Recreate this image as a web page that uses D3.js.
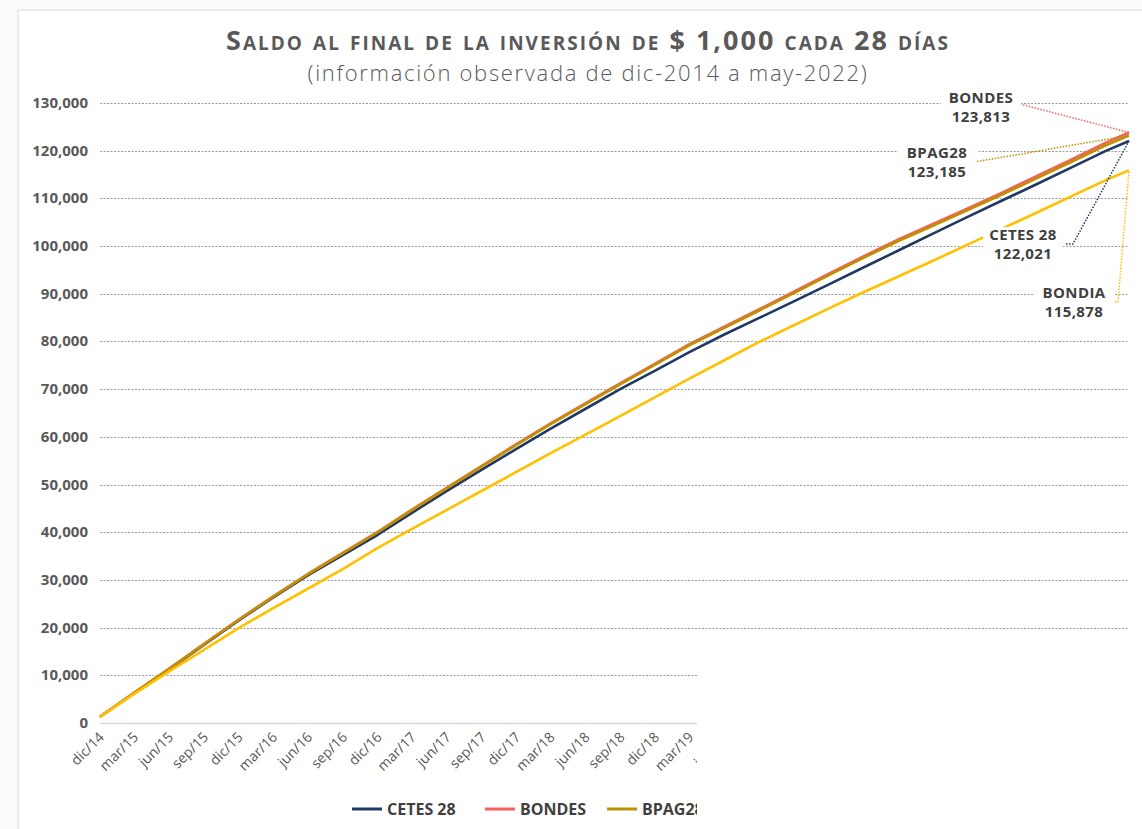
<!DOCTYPE html>
<html>
<head>
<meta charset="utf-8">
<script src="https://cdn.jsdelivr.net/npm/d3@7"></script>
<style>
  body { margin: 0; background: #fbfbfb; }
  svg { display: block; }
</style>
</head>
<body>
<svg id="chart" width="1142" height="829"></svg>
<script>
// fechas de corte (trimestral) y saldo de cada instrumento
var fechas = ["2014-12","2015-03","2015-06","2015-09","2015-12","2016-03","2016-06","2016-09","2016-12",
  "2017-03","2017-06","2017-09","2017-12","2018-03","2018-06","2018-09","2018-12","2019-03","2019-06",
  "2019-09","2019-12","2020-03","2020-06","2020-09","2020-12","2021-03","2021-06","2021-09","2021-12",
  "2022-03","2022-05"];

var etiquetas = ["dic/14","mar/15","jun/15","sep/15","dic/15","mar/16","jun/16","sep/16","dic/16",
  "mar/17","jun/17","sep/17","dic/17","mar/18","jun/18","sep/18","dic/18","mar/19","jun/19",
  "sep/19","dic/19","mar/20","jun/20","sep/20","dic/20","mar/21","jun/21","sep/21","dic/21","mar/22"];

var cetes28 = [1300,6260,11250,16420,21500,26320,31000,35230,39470,44070,48690,53125,57460,61730,65890,
  70060,73900,77760,81460,84930,88400,91930,95500,99070,102610,106080,109550,113020,116490,119960,122021];

var bondes = [1300,6330,11410,16600,21700,26550,31300,35700,40100,44750,49350,53930,58480,62820,67050,
  71240,75330,79430,83100,86750,90430,94140,97850,101400,104630,107860,111220,114690,118160,121680,123813];

var bpag28 = [1300,6310,11380,16560,21650,26490,31230,35620,40000,44640,49230,53800,58330,62660,66870,
  71050,75120,79200,82860,86490,90150,93840,97530,101060,104270,107480,110810,114250,117680,121150,123185];

var bondia = [1300,6090,10810,15400,19900,24100,28200,32300,36700,40700,44700,48700,52640,56570,60460,
  64380,68310,72210,76060,79910,83400,86870,90320,93620,96920,100250,103650,107050,110480,113840,115878];

var yTicks = [0,10000,20000,30000,40000,50000,60000,70000,80000,90000,100000,110000,120000,130000];

var series = [
  {name: "CETES 28", values: cetes28, color: "#203864"},
  {name: "BONDES",   values: bondes,  color: "#f4625b"},
  {name: "BPAG28",   values: bpag28,  color: "#bf9000"},
  {name: "BONDIA",   values: bondia,  color: "#ffc000"}
];

var parse = d3.timeParse("%Y-%m");
var dates = fechas.map(parse);

var svg = d3.select("#chart");
var gris = "#595959";

// marco blanco del gráfico
svg.append("rect").attr("x", 18).attr("y", 10).attr("width", 1200).attr("height", 900)
  .attr("fill", "#fff").attr("stroke", "#d9d9d9");

var x = d3.scaleTime().domain([dates[0], dates[dates.length - 1]]).range([100, 1129]);
var y = d3.scaleLinear().domain([0, 130000]).range([723, 103]);

// rejilla
svg.append("g").selectAll("line")
  .data(yTicks.filter(function(d){ return d > 0; }))
  .enter().append("line")
    .attr("x1", 100).attr("x2", 1128)
    .attr("y1", function(d){ return Math.round(y(d)) + 0.5; })
    .attr("y2", function(d){ return Math.round(y(d)) + 0.5; })
    .attr("stroke", "#9a9a9a").attr("stroke-width", 1).attr("stroke-dasharray", "2,1.5");

svg.append("line").attr("x1", 100).attr("x2", 1128)
  .attr("y1", Math.round(y(0)) + 0.5).attr("y2", Math.round(y(0)) + 0.5)
  .attr("stroke", "#d9d9d9").attr("stroke-width", 1.5);

// eje y
var fmt = d3.format(",");
svg.append("g").selectAll("text")
  .data(yTicks)
  .enter().append("text")
    .attr("x", 88).attr("y", function(d){ return y(d) + 5; })
    .attr("text-anchor", "end")
    .style("font", "bold 15px 'Open Sans', sans-serif")
    .attr("fill", gris)
    .text(function(d){ return fmt(d); });

// eje x
var tickDates = dates.slice(0, etiquetas.length);
svg.append("g").selectAll("text")
  .data(tickDates)
  .enter().append("text")
    .attr("transform", function(d){ return "translate(" + (x(d) + 5) + ",738) rotate(-45)"; })
    .attr("text-anchor", "end")
    .style("font", "14px 'Open Sans', sans-serif")
    .attr("fill", gris)
    .text(function(d, i){ return etiquetas[i]; });

// líneas
var line = d3.line()
  .x(function(d, i){ return x(dates[i]); })
  .y(function(d){ return y(d); });

svg.append("g").selectAll("path")
  .data(series)
  .enter().append("path")
    .attr("d", function(s){ return line(s.values); })
    .attr("fill", "none")
    .attr("stroke", function(s){ return s.color; })
    .attr("stroke-width", 2.6)
    .attr("stroke-linejoin", "round");

// leyenda
var legX = [352, 485, 607, 740];
var leg = svg.append("g").selectAll("g")
  .data(series)
  .enter().append("g")
    .attr("transform", function(d, i){ return "translate(" + legX[i] + ",809)"; });
leg.append("line").attr("x1", 0).attr("x2", 30).attr("stroke", function(d){ return d.color; }).attr("stroke-width", 3);
leg.append("text").attr("x", 35).attr("y", 5.5)
  .style("font", "bold 16px 'Open Sans', sans-serif").attr("fill", "#404040")
  .text(function(d){ return d.name; });

// recuadro blanco que tapa la esquina inferior derecha
svg.append("rect").attr("x", 697).attr("y", 648).attr("width", 460).attr("height", 200).attr("fill", "#fff");

// etiquetas de valor final
var notas = [
  {s: 1, cx: 981,  by: 103, pts: [[1020, 104]]},
  {s: 2, cx: 937,  by: 158, pts: [[974, 162]]},
  {s: 0, cx: 1023, by: 240, pts: [[1066, 244], [1073, 244]]},
  {s: 3, cx: 1074, by: 298, pts: [[1112, 302], [1118, 302]]}
];
var last = dates.length - 1;
notas.forEach(function(n){
  var s = series[n.s];
  var pts = n.pts.concat([[x(dates[last]), y(s.values[last])]]);
  svg.append("path")
    .attr("d", d3.line()(pts))
    .attr("fill", "none").attr("stroke", s.color)
    .attr("stroke-width", 1.5).attr("stroke-dasharray", "1.5,1.5");
  var g = svg.append("g");
  g.append("rect").attr("fill", "#fff")
    .attr("x", n.cx - 40).attr("y", n.by - 13).attr("width", 80).attr("height", 33);
  g.append("text").attr("x", n.cx).attr("y", n.by).attr("text-anchor", "middle")
    .style("font", "bold 15px 'Open Sans', sans-serif").style("letter-spacing", "0.4px")
    .attr("fill", "#404040").text(s.name);
  g.append("text").attr("x", n.cx).attr("y", n.by + 19).attr("text-anchor", "middle")
    .style("font", "bold 15px 'Open Sans', sans-serif").style("letter-spacing", "0.4px")
    .attr("fill", "#404040").text(fmt(s.values[last]));
});

// títulos (se ensanchan con espaciado para igualar el ancho)
function ajustar(t, ancho){
  var w = t.node().getComputedTextLength();
  var n = t.text().length;
  t.style("letter-spacing", ((ancho - w) / n) + "px");
}

var titulo = svg.append("text").attr("x", 588).attr("y", 49.5).attr("text-anchor", "middle")
  .style("font-family", "'Open Sans', sans-serif").style("font-weight", "bold")
  .style("font-variant", "small-caps").style("font-size", "27px")
  .attr("fill", gris)
  .text("Saldo al final de la inversión de $ 1,000 cada 28 días");
ajustar(titulo, 724);

var sub = svg.append("text").attr("x", 588).attr("y", 81).attr("text-anchor", "middle")
  .style("font-family", "'Open Sans', sans-serif").style("font-weight", "300")
  .style("font-size", "22px").attr("fill", gris)
  .text("(información observada de dic-2014 a may-2022)");
ajustar(sub, 561);
</script>
</body>
</html>
